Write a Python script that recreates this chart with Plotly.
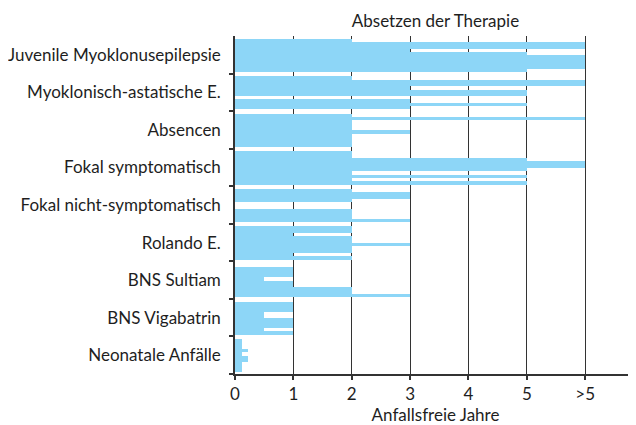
import plotly.graph_objects as go

# Categories (top to bottom)
categories = [
    "Juvenile Myoklonusepilepsie",
    "Myoklonisch-astatische E.",
    "Absencen",
    "Fokal symptomatisch",
    "Fokal nicht-symptomatisch",
    "Rolando E.",
    "BNS Sultiam",
    "BNS Vigabatrin",
    "Neonatale Anfälle",
]

# Seizure-free years per patient row (index on x axis: 0..5, 6 = ">5"), top to bottom
juvenile = [2, 6, 6, 3, 5, 6, 6, 6, 6, 5]
myoklonisch = [2, 6, 6, 3, 5, 5, 0, 3, 5, 3]
absencen = [2, 6, 2, 2, 2, 3, 2, 2, 2, 2]
fokal_sympt = [2, 2, 5, 6, 6, 5, 2, 5, 2, 5]
fokal_nicht = [2, 3, 3, 2, 0, 0, 2, 2, 2, 3]
rolando = [2, 2, 1, 2, 2, 3, 2, 2, 1, 2]
bns_sultiam = [0, 1, 1, 1, 0.5, 1, 1, 2, 2, 3]
bns_vigabatrin = [1, 1, 1, 0.5, 0.5, 1, 1, 1, 0.5, 1]
neonatale = [0.12, 0.12, 0.12, 0.23, 0.12, 0.23, 0.23, 0.12, 0.12, 0.12]

series = [juvenile, myoklonisch, absencen, fokal_sympt, fokal_nicht,
          rolando, bns_sultiam, bns_vigabatrin, neonatale]

x_tick_labels = ["0", "1", "2", "3", "4", "5", ">5"]
x_title = "Anfallsfreie Jahre"
top_title = "Absetzen der Therapie"

# layout in row units
CAT_H = 11.3
TOP_PAD = 0.8

ys, xs = [], []
for k, vals in enumerate(series):
    for j, v in enumerate(vals):
        ys.append(k * CAT_H + TOP_PAD + j + 0.5)
        xs.append(v)

FONT = "Lato"
BLUE = "#8dd6f7"
DARK = "#333333"
TXT = "#1e1e1e"

W, H = 628, 417  # page has an 8px body margin

fig = go.Figure()
fig.add_trace(go.Bar(
    x=xs, y=ys, orientation="h", width=1.0,
    marker=dict(color=BLUE, line=dict(width=0)),
    hoverinfo="x", showlegend=False,
))

n = len(categories)
fig.update_layout(
    width=W, height=H,
    margin=dict(l=227, r=0, t=28, b=51, autoexpand=False),
    paper_bgcolor="white", plot_bgcolor="white",
    bargap=0,
    font=dict(family=FONT, size=17, color=TXT),
    title=dict(text=top_title, x=0.5, xref="paper", xanchor="center",
               y=1 - 13 / H, yref="container", yanchor="middle",
               font=dict(family=FONT, size=17, color=TXT)),
    xaxis=dict(
        range=[0, 6.87],
        tickmode="array", tickvals=list(range(len(x_tick_labels))),
        ticktext=x_tick_labels,
        ticks="outside", ticklen=4, tickcolor=DARK, tickwidth=1.5,
        showgrid=True, gridcolor=DARK, gridwidth=1.3,
        showline=True, linecolor=DARK, linewidth=1.5,
        zeroline=False, automargin=False,
        tickfont=dict(family=FONT, size=17, color=TXT),
        title=dict(text=x_title, font=dict(family=FONT, size=17, color=TXT),
                   standoff=8),
    ),
    yaxis=dict(
        range=[n * CAT_H, 0],
        tickmode="array",
        tickvals=[k * CAT_H + CAT_H / 2 for k in range(n)],
        ticktext=categories,
        ticks="", ticklabelstandoff=9, automargin=False,
        showgrid=False, zeroline=False,
        showline=True, linecolor=DARK, linewidth=1.5,
        tickfont=dict(family=FONT, size=17, color=TXT),
        minor=dict(tickmode="array",
                   tickvals=[k * CAT_H for k in range(1, n + 1)],
                   ticks="outside", ticklen=4, tickcolor=DARK, tickwidth=1.5,
                   showgrid=False),
    ),
)

fig.write_html("out.html")
